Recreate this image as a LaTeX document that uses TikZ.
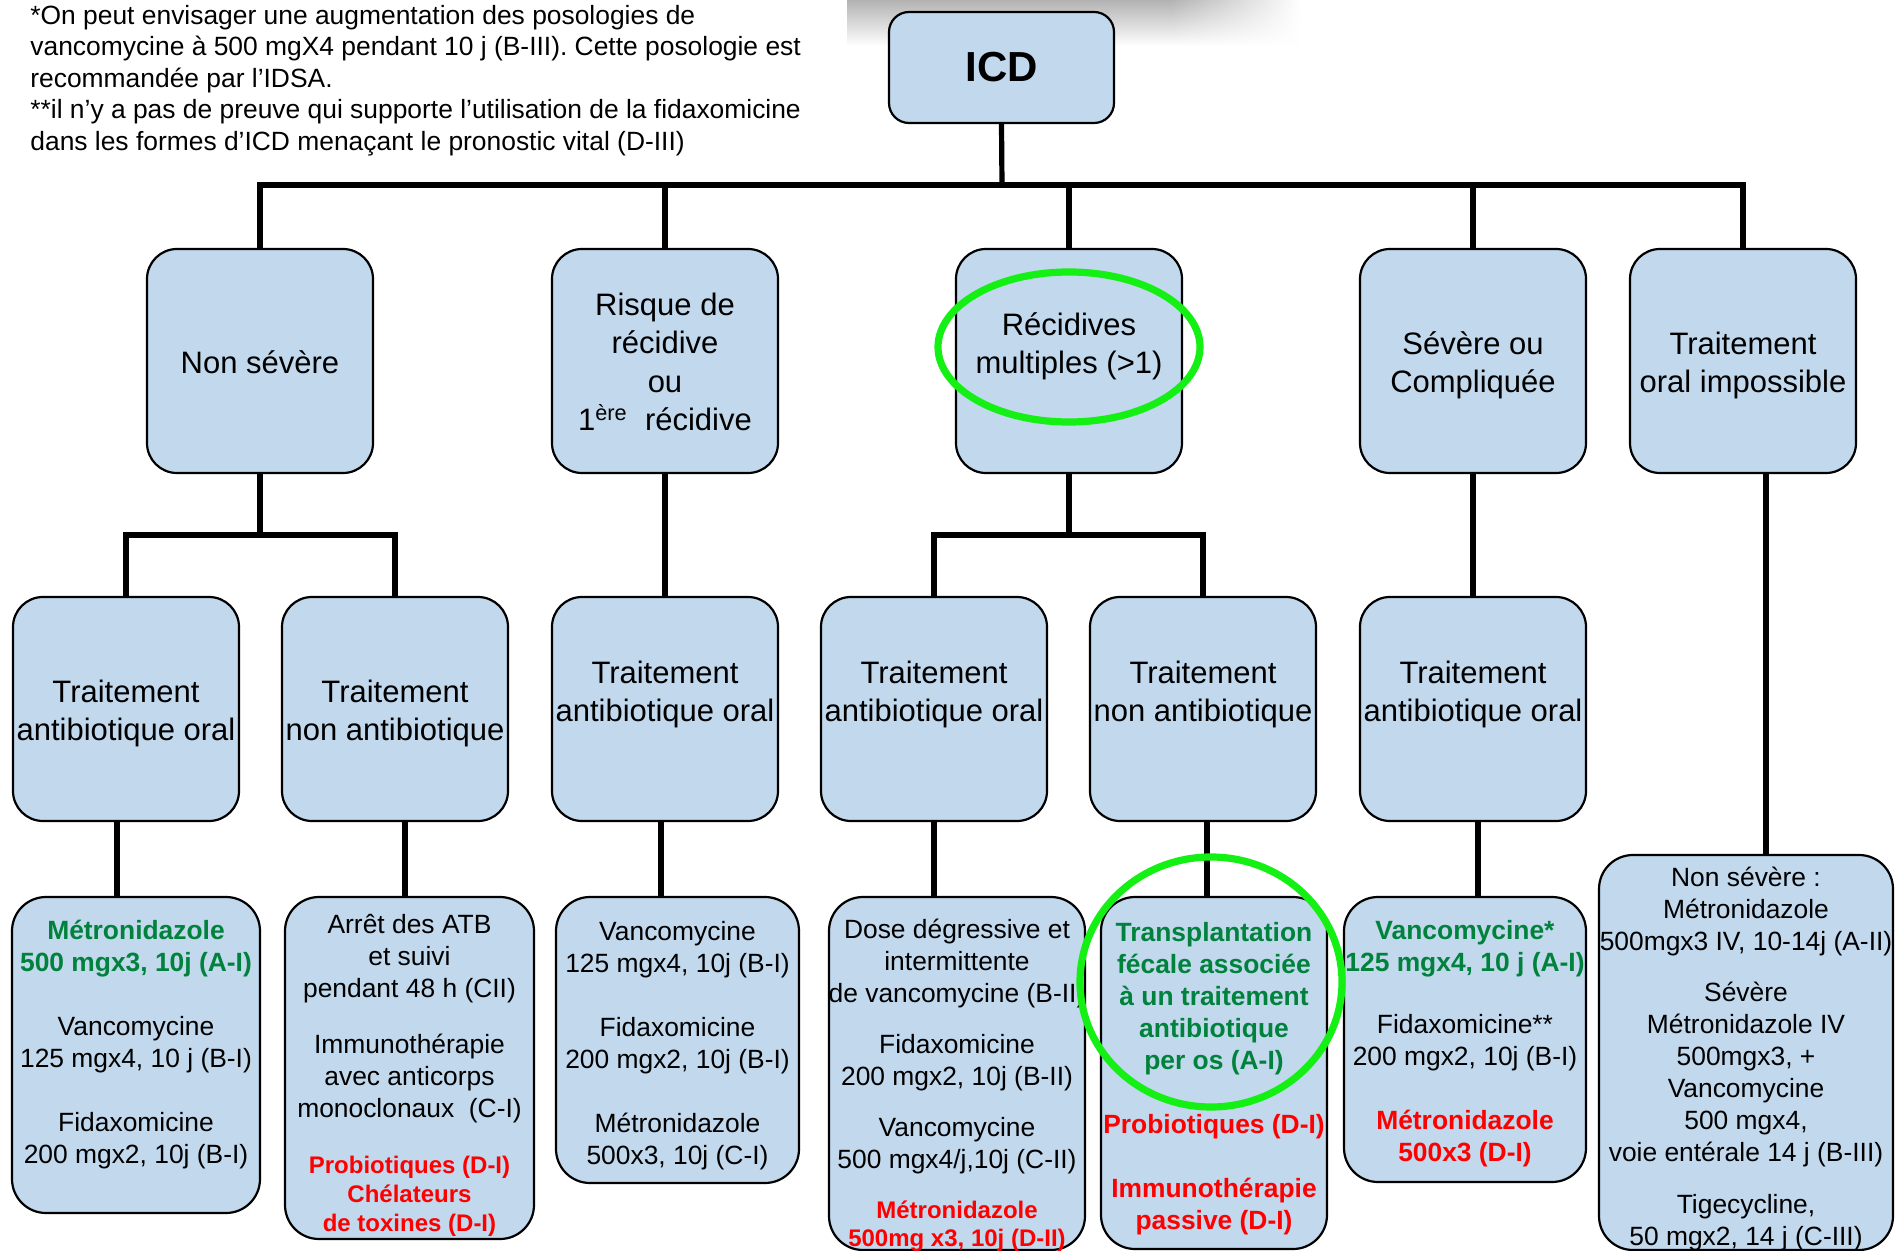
\documentclass[tikz,border=0pt]{standalone}
\usepackage{fontspec}
\setmainfont{Liberation Sans}
\usepackage{tikz}
\usetikzlibrary{positioning,calc,fadings}
\definecolor{boxblue}{RGB}{193,216,237}
\definecolor{recgreen}{RGB}{0,130,60}
\definecolor{hlgreen}{RGB}{20,240,20}
\tikzfading[name=fadeeast,left color=transparent!0,right color=transparent!100]
\newcommand{\grn}[1]{\textcolor{recgreen}{\bfseries #1}}
\newcommand{\rd}[1]{\textcolor{red}{\bfseries #1}}
\newcommand{\rdsm}[1]{\textcolor{red}{\bfseries\fontsize{12}{14.5}\selectfont #1}}

\begin{document}
\begin{tikzpicture}[x=0.5pt,y=-0.5pt,
  box/.style={draw,line width=1.1pt,fill=boxblue,rounded corners=15pt,
    minimum width=113pt,minimum height=112pt,inner sep=0pt},
  bigbox/.style={box,rounded corners=17pt},
  txt/.style={align=center,inner sep=0pt,font=\fontsize{15.5}{19.25}\selectfont},
  small/.style={align=center,inner sep=0pt,font=\fontsize{13.2}{16}\selectfont},
  conn/.style={line width=2.6pt},
  hl/.style={draw=hlgreen,line width=3.6pt}]
\useasboundingbox (0,0) rectangle (1897,1251);
\fill[white] (0,0) rectangle (1897,1251);
\shade[top color=black!30,bottom color=white] (847,0) rectangle (1170,46);
\shade[top color=black!30,bottom color=white,path fading=fadeeast] (1170,0) rectangle (1300,46);

\node[anchor=west,align=left,inner sep=0pt,font=\fontsize{13.2}{15.7}\selectfont] (note) at (30,80.5)
  {*On peut envisager une augmentation des posologies de\\
   vancomycine à 500 mgX4 pendant 10 j (B-III). Cette posologie est\\
   recommandée par l’IDSA.\\
   {}**il n’y a pas de preuve qui supporte l’utilisation de la fidaxomicine\\
   dans les formes d’ICD menaçant le pronostic vital (D-III)};

\node[box,minimum width=112.5pt,minimum height=55.5pt,rounded corners=10pt,
  font=\bfseries\fontsize{21}{25}\selectfont] (icd) at (1001.5,67.5) {ICD};

\node[box] (ns) at (260,361) {};
\node[box] (rr) at (665,361) {};
\node[box] (rm) at (1069,361) {};
\node[box] (sc) at (1473,361) {};
\node[box] (oi) at (1743,361) {};
\node[txt] (ns-t) at (260,362) {Non sévère};
\node[txt] (rr-t) at (665,362) {Risque de\\récidive\\ou\\1\textsuperscript{ère}\ \ récidive};
\node[txt] (rm-t) at (1069,346.5) {Récidives\\multiples (>1)};
\node[txt] (sc-t) at (1473,365.5) {Sévère ou\\Compliquée};
\node[txt] (oi-t) at (1743,365.5) {Traitement\\oral impossible};

\node[box] (a1) at (126,709) {};
\node[box] (n1) at (395,709) {};
\node[box] (a2) at (665,709) {};
\node[box] (a3) at (934,709) {};
\node[box] (n3) at (1203,709) {};
\node[box] (a4) at (1473,709) {};
\node[txt] (a1-t) at (126,713.5) {Traitement\\antibiotique oral};
\node[txt] (n1-t) at (395,713.5) {Traitement\\non antibiotique};
\node[txt] (a2-t) at (665,694.5) {Traitement\\antibiotique oral};
\node[txt] (a3-t) at (934,694.5) {Traitement\\antibiotique oral};
\node[txt] (n3-t) at (1203,694.5) {Traitement\\non antibiotique};
\node[txt] (a4-t) at (1473,694.5) {Traitement\\antibiotique oral};

\node[bigbox,minimum width=124pt,minimum height=158pt] (r1) at (136,1055) {};
\node[bigbox,minimum width=124.5pt,minimum height=171pt] (r2) at (409.5,1068) {};
\node[bigbox,minimum width=121.5pt,minimum height=143pt] (r3) at (677.5,1040) {};
\node[bigbox,minimum width=128pt,minimum height=176.5pt] (r4) at (957,1073.5) {};
\node[bigbox,minimum width=113pt,minimum height=176pt] (r5) at (1214,1073) {};
\node[bigbox,minimum width=121pt,minimum height=142.5pt] (r6) at (1465,1039.5) {};
\node[bigbox,minimum width=147pt,minimum height=197.5pt] (r7) at (1746,1052.5) {};

\node[small] (r1-t) at (136,1045) {\grn{Métronidazole}\\\grn{500 mgx3, 10j (A-I)}\\[16pt]
  Vancomycine\\125 mgx4, 10 j (B-I)\\[16pt]Fidaxomicine\\200 mgx2, 10j (B-I)};
\node[small] (r2-t) at (409.5,1075) {Arrêt des ATB\\et suivi\\pendant 48 h (CII)\\[12pt]
  Immunothérapie\\avec anticorps\\monoclonaux\ \ (C-I)\\[12pt]
  \rdsm{Probiotiques (D-I)}\\[-1.5pt]\rdsm{Chélateurs}\\[-1.5pt]\rdsm{de toxines (D-I)}};
\node[small] (r3-t) at (677.5,1046) {Vancomycine\\125 mgx4, 10j (B-I)\\[16pt]
  Fidaxomicine\\200 mgx2, 10j (B-I)\\[16pt]Métronidazole\\500x3, 10j (C-I)};
\node[small] (r4-t) at (957,1085) {Dose dégressive et\\intermittente\\de vancomycine (B-II)\\[9.5pt]
  Fidaxomicine\\200 mgx2, 10j (B-II)\\[9.5pt]Vancomycine\\500 mgx4/j,10j (C-II)\\[9pt]
  \rdsm{Métronidazole}\\[-2pt]\rdsm{500mg x3, 10j (D-II)}};
\node[small] (r5-t) at (1214,1079) {\grn{Transplantation}\\\grn{fécale associée}\\
  \grn{à un traitement}\\\grn{antibiotique}\\\grn{per os (A-I)}\\[16pt]
  \rd{Probiotiques (D-I)}\\[16pt]\rd{Immunothérapie}\\\rd{passive (D-I)}};
\node[small] (r6-t) at (1465,1044) {\grn{Vancomycine*}\\\grn{125 mgx4, 10 j (A-I)}\\[15pt]
  Fidaxomicine**\\200 mgx2, 10j (B-I)\\[16pt]\rd{Métronidazole}\\\rd{500x3 (D-I)}};
\node[small] (r7-t) at (1746,1059) {Non sévère :\\Métronidazole\\500mgx3 IV, 10-14j (A-II)\\[9.5pt]
  Sévère\\Métronidazole IV\\500mgx3, +\\Vancomycine\\500 mgx4,\\voie entérale 14 j (B-III)\\[10pt]
  Tigecycline,\\50 mgx2, 14 j (C-III)};

\coordinate (bar) at (1002,185);
\coordinate (nsbar) at (260,535);
\coordinate (rmbar) at (1069,535);
\draw[conn] (icd.south) -- (bar);
\draw[conn] (ns.north) |- (bar) -| (oi.north);
\foreach \b in {rr,rm,sc} \draw[conn] (\b.north) -- (\b.north |- bar);
\draw[conn] (ns.south) -- (nsbar);
\draw[conn] (a1.north) |- (nsbar) -| (n1.north);
\draw[conn] (rm.south) -- (rmbar);
\draw[conn] (a3.north) |- (rmbar) -| (n3.north);
\draw[conn] (rr.south) -- (a2.north);
\draw[conn] (sc.south) -- (a4.north);
\draw[conn] ([xshift=11.5pt]oi.south) -- ([xshift=11.5pt]oi.south |- r7.north);
\draw[conn] ([xshift=-4.5pt]a1.south) -- ([xshift=-4.5pt]a1.south |- r1.north);
\draw[conn] ([xshift=5pt]n1.south) -- ([xshift=5pt]n1.south |- r2.north);
\draw[conn] ([xshift=-2pt]a2.south) -- ([xshift=-2pt]a2.south |- r3.north);
\draw[conn] (a3.south) -- (a3.south |- r4.north);
\draw[conn] ([xshift=2pt]n3.south) -- ([xshift=2pt]n3.south |- r5.north);
\draw[conn] ([xshift=2.5pt]a4.south) -- ([xshift=2.5pt]a4.south |- r6.north);

\draw[hl] ([yshift=7pt]rm.center) ellipse [x radius=65.5pt,y radius=37.5pt];
\draw[hl] ([xshift=-1.5pt,yshift=45.5pt]r5.center) ellipse [x radius=65.5pt,y radius=62.5pt];
\end{tikzpicture}
\end{document}
